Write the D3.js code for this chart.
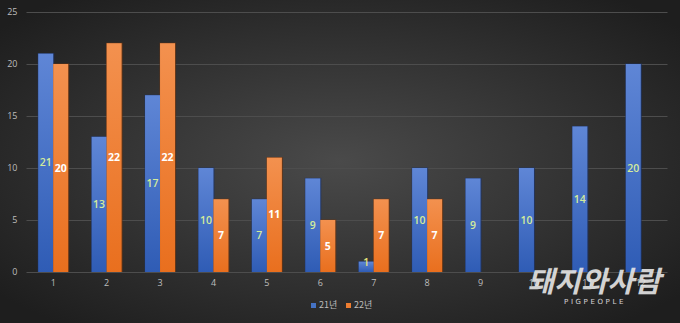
<!DOCTYPE html>
<html>
<head>
<meta charset="utf-8">
<script src="https://cdn.jsdelivr.net/npm/d3@7"></script>
<style>
  html, body { margin: 0; padding: 0; background: #2a2a2a; }
  svg { display: block; }
</style>
</head>
<body>
<svg id="chart" width="680" height="323"></svg>
<script>
// Monthly counts, two years
const months = ["1","2","3","4","5","6","7","8","9","10","11","12"];
const y21 = [21, 13, 17, 10, 7, 9, 1, 10, 9, 10, 14, 20];
const y22 = [20, 22, 22, 7, 11, 5, 7, 7, null, null, null, null];
const seriesNames = ["21년", "22년"];
const yTicks = [0, 5, 10, 15, 20, 25];

const W = 680, H = 323;
const svg = d3.select("#chart");
const defs = svg.append("defs");

// background radial shading
const bg = defs.append("radialGradient").attr("id", "bg")
  .attr("cx", "50%").attr("cy", "50%").attr("r", "65%");
bg.append("stop").attr("offset", "0%").attr("stop-color", "#4a4a4a");
bg.append("stop").attr("offset", "100%").attr("stop-color", "#1e1e1e");
svg.append("rect").attr("width", W).attr("height", H).attr("fill", "url(#bg)");

const gBlue = defs.append("linearGradient").attr("id", "gBlue")
  .attr("x1", 0).attr("y1", 0).attr("x2", 0).attr("y2", 1);
gBlue.append("stop").attr("offset", "0%").attr("stop-color", "#5f86d6");
gBlue.append("stop").attr("offset", "100%").attr("stop-color", "#2f5cb5");
const gOrange = defs.append("linearGradient").attr("id", "gOrange")
  .attr("x1", 0).attr("y1", 0).attr("x2", 0).attr("y2", 1);
gOrange.append("stop").attr("offset", "0%").attr("stop-color", "#f3914f");
gOrange.append("stop").attr("offset", "100%").attr("stop-color", "#e96f1e");

const plot = { left: 26.5, right: 667.5, top: 12, bottom: 272 };

const x = d3.scaleBand().domain(months).range([plot.left, plot.right]).paddingInner(0).paddingOuter(0);
const xs = d3.scaleBand().domain([0, 1]).range([0, 30]);
const y = d3.scaleLinear().domain([0, 25]).range([plot.bottom, plot.top]);

// gridlines
svg.append("g").selectAll("line").data(yTicks).join("line")
  .attr("x1", plot.left).attr("x2", plot.right)
  .attr("y1", d => Math.round(y(d)) + 0.5).attr("y2", d => Math.round(y(d)) + 0.5)
  .attr("stroke", "#4d4d4d").attr("stroke-width", 1);

// y axis labels
const yAxis = d3.axisLeft(y).tickValues(yTicks).tickSize(0).tickPadding(0);
const gy = svg.append("g").attr("transform", `translate(${plot.left - 9},0)`).call(yAxis);
gy.select(".domain").remove();
gy.selectAll("text").attr("fill", "#bdbdbd").style("font-family", "Open Sans, sans-serif").style("font-size", "9px");

// x axis labels
const xAxis = d3.axisBottom(x).tickSize(0).tickPadding(0);
const gx = svg.append("g").attr("transform", `translate(0,${plot.bottom + 8})`).call(xAxis);
gx.select(".domain").remove();
gx.selectAll("text").attr("fill", "#bdbdbd").style("font-family", "Open Sans, sans-serif").style("font-size", "9px");

const data = [];
months.forEach((m, i) => {
  if (y21[i] != null) data.push({ m, s: 0, v: y21[i] });
  if (y22[i] != null) data.push({ m, s: 1, v: y22[i] });
});

// blue sits in the left slot, orange in the right slot of each month
const bx = d => x(d.m) + (x.bandwidth() - 30) / 2 + xs(d.s);

// bar shadows
svg.append("g").selectAll("rect").data(data).join("rect")
  .attr("x", d => bx(d) - 0.5)
  .attr("y", d => y(d.v) - 0.5)
  .attr("width", xs.bandwidth() + 1.5)
  .attr("height", d => y(0) - y(d.v) + 0.5)
  .attr("fill", d => d.s === 0 ? "#1f3466" : "#6a3512")
  .attr("opacity", 0.8);

svg.append("g").selectAll("rect").data(data).join("rect")
  .attr("x", d => bx(d))
  .attr("y", d => y(d.v))
  .attr("width", xs.bandwidth())
  .attr("height", d => y(0) - y(d.v))
  .attr("fill", d => d.s === 0 ? "url(#gBlue)" : "url(#gOrange)");

// value labels
svg.append("g").selectAll("text").data(data).join("text")
  .attr("x", d => bx(d) + xs.bandwidth() / 2)
  .attr("y", d => d.v < 2 ? y(d.v) + 0.5 : (y(d.v) + y(0)) / 2)
  .attr("dy", "0.35em")
  .attr("text-anchor", "middle")
  .attr("fill", d => d.s === 0 ? (d.v < 2 ? "#e4e27a" : "#d3ec9c") : "#ffffff")
  .style("font-family", "Open Sans, sans-serif")
  .style("font-size", "10.5px")
  .style("font-weight", d => d.s === 0 ? 600 : 700)
  .text(d => d.v);

// legend
const legend = svg.append("g").attr("transform", "translate(311,303)");
const items = [{ name: seriesNames[0], c: "#4472c4", dx: 0 }, { name: seriesNames[1], c: "#ed7d31", dx: 35 }];
items.forEach(it => {
  legend.append("rect").attr("x", it.dx).attr("y", 0).attr("width", 5).attr("height", 5).attr("fill", it.c);
  legend.append("text").attr("x", it.dx + 8).attr("y", 5)
    .attr("fill", "#bdbdbd").style("font-family", "Noto Sans CJK KR, sans-serif").style("font-size", "9px")
    .text(it.name);
});

// publisher mark
const mark = svg.append("g").attr("opacity", 0.9);
mark.append("text").attr("x", 594).attr("y", 292).attr("text-anchor", "middle")
  .attr("fill", "#e6e6e6")
  .style("font-family", "Noto Sans CJK KR, sans-serif").style("font-size", "29px").style("font-weight", 700)
  .style("font-style", "italic")
  .text("돼지와사람");
mark.append("text").attr("x", 595).attr("y", 304).attr("text-anchor", "middle")
  .attr("fill", "#e6e6e6")
  .style("font-family", "DejaVu Sans, sans-serif").style("font-size", "7px")
  .style("letter-spacing", "2.6px")
  .text("PIGPEOPLE");
</script>
</body>
</html>
